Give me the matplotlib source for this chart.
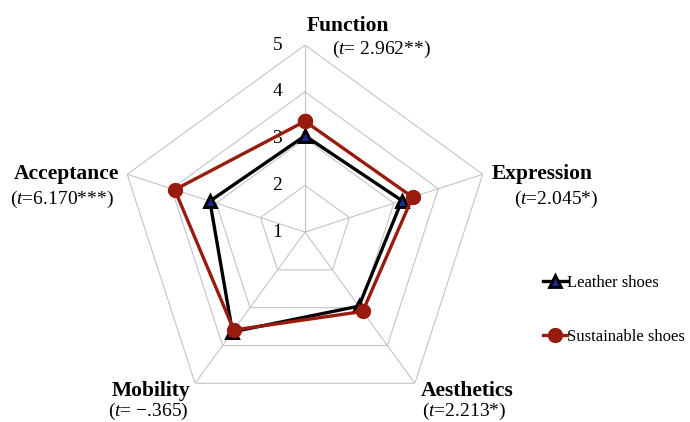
import numpy as np
import matplotlib
matplotlib.use("Agg")
from matplotlib import pyplot as plt

plt.rcParams['font.family'] = ['Liberation Serif', 'DejaVu Serif']
plt.rcParams['mathtext.fontset'] = 'custom'
plt.rcParams['mathtext.it'] = 'Liberation Serif:italic'
plt.rcParams['mathtext.rm'] = 'Liberation Serif'

categories = ['Function', 'Expression', 'Aesthetics', 'Mobility', 'Acceptance']
t_labels = ['(t= 2.962**)', '(t=2.045*)', '(t=2.213*)', '(t= \u2212.365)', '(t=6.170***)']
leather = [3.06, 3.18, 2.96, 3.64, 3.14]
sustainable = [3.37, 3.42, 3.10, 3.59, 3.93]
levels = [1, 2, 3, 4, 5]

n = len(categories)
theta = np.arange(n) * 2 * np.pi / n
theta_c = np.append(theta, theta[0])

fig = plt.figure(figsize=(6.9, 4.22), dpi=100)
ax = fig.add_axes([0.171, 0.0071, 0.542, 0.886], projection='polar')
ax.set_theta_offset(np.pi / 2)
ax.set_theta_direction(-1)
ax.set_ylim(1, 5)
ax.grid(False)
ax.spines['polar'].set_visible(False)
ax.set_xticks([])
ax.set_yticks([])
ax.patch.set_visible(False)

gc = '#c4c4c4'
for lv in levels[1:]:
    ax.plot(theta_c, [lv] * (n + 1), color=gc, lw=0.8, zorder=1)
for th in theta:
    ax.plot([th, th], [1, 5], color=gc, lw=0.8, zorder=1)

ax.plot(theta_c, leather + leather[:1], color='black', lw=2.4, marker='^',
        ms=9, mfc='#1a2a8c', mec='black', mew=2, zorder=3, label='Leather shoes')
ax.plot(theta_c, sustainable + sustainable[:1], color='#981b0e', lw=2.4, marker='o',
        ms=10, mfc='#981b0e', mec='#981b0e', zorder=4, label='Sustainable shoes')

# radial tick labels along the top axis
for lv in levels:
    ax.annotate(str(lv), (0, lv), xytext=(-20, 0), textcoords='offset points',
                ha='center', va='center', fontsize=14, annotation_clip=False)

# category labels, offsets in points from the outer vertex
name_off = [(31, 14), (42.5, 0), (38, -5.5), (-31.7, -5.5), (-44, 0)]
t_off = [(55, -3), (52.6, -18), (35.5, -20), (-34, -20), (-47, -18)]
for i in range(n):
    ax.annotate(categories[i], (theta[i], 5), xytext=name_off[i], textcoords='offset points',
                ha='center', va='center', fontsize=15.5, fontweight='bold',
                annotation_clip=False)
    lab = t_labels[i].replace('(t', '($t$')
    ax.annotate(lab, (theta[i], 5), xytext=t_off[i], textcoords='offset points',
                ha='center', va='center', fontsize=14, annotation_clip=False)

fig.legend(loc='upper left', bbox_to_anchor=(0.778, 0.365), frameon=False,
           fontsize=12, handlelength=1.4, handletextpad=0.0, labelspacing=2.3,
           borderaxespad=0)

fig.savefig('out.png', dpi=100)
